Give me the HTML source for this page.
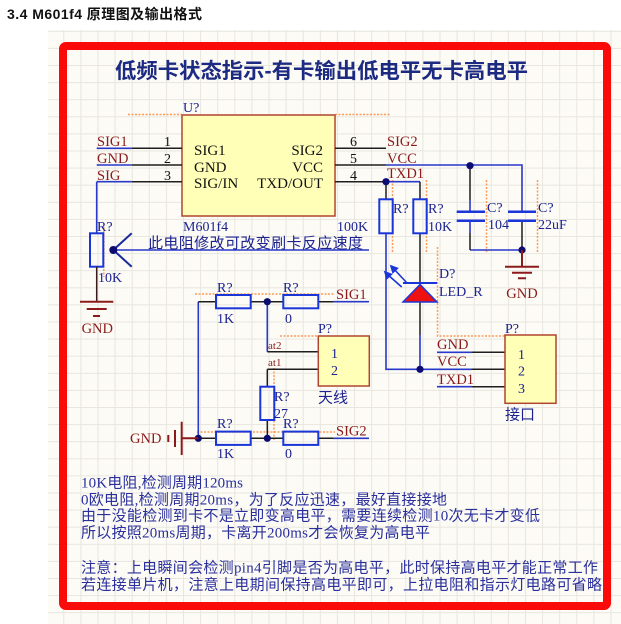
<!DOCTYPE html>
<html><head><meta charset="utf-8"><style>
html,body{margin:0;padding:0;background:#fff;}
svg{display:block;}
.s{font-family:"Liberation Serif","Noto Serif CJK SC",serif;}
.c{font-family:"Liberation Serif","Noto Sans CJK SC",sans-serif;}
.net{fill:#8b1a1a;font-size:14.5px;}
.des{fill:#1c2390;font-size:14px;}
.ic{fill:#111;font-size:15px;}
</style></head><body>
<svg width="621" height="624" viewBox="0 0 621 624" xmlns="http://www.w3.org/2000/svg">
<defs>
<pattern id="g" x="46.2" y="30.8" width="17.1" height="17.1" patternUnits="userSpaceOnUse">
<path d="M0 0.5H17.1M0.5 0V17.1" stroke="#e8e6de" stroke-width="1" fill="none"/>
</pattern>
</defs>
<rect width="621" height="624" fill="#fff"/>
<rect x="48" y="30" width="573" height="594" fill="#fcfbf6"/>
<rect x="48" y="30" width="573" height="594" fill="url(#g)"/>

<!-- header -->
<text x="7" y="19" font-family="'Liberation Sans','Noto Sans CJK SC',sans-serif" font-weight="bold" font-size="14" fill="#111" textLength="195">3.4 M601f4 原理图及输出格式</text>

<!-- red border -->
<rect x="63" y="46" width="544" height="560" rx="3" fill="none" stroke="#fb0a0a" stroke-width="8"/>

<!-- title -->
<text x="115" y="78" font-family="'Liberation Sans','Noto Sans CJK SC',sans-serif" font-weight="bold" font-size="21" fill="#1c2a82" textLength="413" lengthAdjust="spacingAndGlyphs">低频卡状态指示-有卡输出低电平无卡高电平</text>

<!-- orange selection marks -->
<g stroke="#ff9a55" stroke-width="1.5" stroke-dasharray="2 1.5" fill="none">
<path d="M128 114.5H182M335 114.5H390"/>
<path d="M103.8 227V277"/>
<path d="M392.5 180V253M426.5 180V253M486.5 180V253M537.5 180V253"/>
<path d="M437.5 247V336H505"/>
<path d="M195 294H335M280 336H318M274 368V440M197 432H335"/>
<path d="M330 301.7H337M330 438.3H337"/>
</g>

<!-- IC U? -->
<text class="s des" x="183" y="112">U?</text>
<rect x="182" y="115" width="153" height="101" fill="#ffffb8" stroke="#b0452e" stroke-width="1.5"/>
<text class="s ic" x="194" y="155">SIG1</text>
<text class="s ic" x="194" y="172">GND</text>
<text class="s ic" x="194" y="188">SIG/IN</text>
<text class="s ic" x="323" y="155" text-anchor="end">SIG2</text>
<text class="s ic" x="323" y="172" text-anchor="end">VCC</text>
<text class="s ic" x="323" y="188" text-anchor="end">TXD/OUT</text>
<text class="s des" x="183" y="231">M601f4</text>

<!-- pins -->
<g stroke="#1e1e1e" stroke-width="1.5" fill="none">
<path d="M131.7 148.3H182M131.7 165H182M131.7 181.7H182"/>
<path d="M335 148.3H386M335 165H386M335 181.7H386"/>
</g>
<g class="s" fill="#111" font-size="14">
<text x="164" y="146">1</text><text x="164" y="163">2</text><text x="164" y="180">3</text>
<text x="350" y="146">6</text><text x="350" y="163">5</text><text x="350" y="180">4</text>
</g>

<!-- left wires -->
<g stroke="#2838c8" stroke-width="1.6" fill="none">
<path d="M96.7 148.3H131.7M96.7 165H131.7M96.7 181.7H131.7V181.7M96.7 181.7V233.3"/>
<path d="M113.3 250H369"/>
</g>
<text class="s net" x="97" y="146">SIG1</text>
<text class="s net" x="97" y="163">GND</text>
<text class="s net" x="97" y="180">SIG</text>

<!-- potentiometer -->
<rect x="90" y="233.3" width="13.3" height="33.4" fill="none" stroke="#1a36d8" stroke-width="2"/>
<path d="M131.7 233.3L113.3 250L131.7 266.7" stroke="#1a2a9a" stroke-width="2" fill="none"/>
<circle cx="113.3" cy="250" r="4" fill="#0b0b70"/>
<text class="s des" x="97" y="231">R?</text>
<text class="s des" x="98" y="282">10K</text>
<text class="c" x="148" y="248" font-size="15" fill="#1c2390" textLength="215">此电阻修改可改变刷卡反应速度</text>
<path d="M96.7 266.7V301.7" stroke="#3a1a1a" stroke-width="1.5"/>
<g stroke="#8b1a1a" stroke-width="2">
<path d="M80 301.7H113.3M86.7 309H106.7M93 316H100"/>
</g>
<text class="s net" x="97.3" y="333" text-anchor="middle">GND</text>

<!-- right side wires -->
<g stroke="#2838c8" stroke-width="1.6" fill="none">
<path d="M386 165H522V211.7"/>
<path d="M470 200V211.7M470 220.7V233M470 250H522"/>
<path d="M386 181.7H420"/>
<path d="M386 233.3V369.3H472"/>
<path d="M420 335V369.3"/>
<path d="M437 352.3H472M437 386.7H472"/>
</g>
<g stroke="#1e1e1e" stroke-width="1.5" fill="none">
<path d="M470 165V200M470 233V250M522 220.7V250"/>
<path d="M386 181.7V199.3M420 181.7V199.3M420 233.3V283"/>
<path d="M420 302V335"/>
<path d="M472 352.3H505M472 369.3H505M472 386.7H505"/>
</g>
<text class="s net" x="387" y="146">SIG2</text>
<text class="s net" x="387" y="163">VCC</text>
<text class="s net" x="387" y="178">TXD1</text>

<!-- caps -->
<g stroke="#1a36d8" stroke-width="2.5">
<path d="M456.7 211.7H485M456.7 220.7H485M508 211.7H536M508 220.7H536"/>
</g>
<circle cx="470" cy="165.7" r="3.6" fill="#0b0b70"/>
<circle cx="522" cy="250" r="3.6" fill="#0b0b70"/>
<circle cx="386" cy="181.7" r="3.6" fill="#0b0b70"/>
<text class="s des" x="487" y="212">C?</text>
<text class="s des" x="488" y="229">104</text>
<text class="s des" x="538" y="212">C?</text>
<text class="s des" x="538" y="229">22uF</text>
<g stroke="#8b1a1a" stroke-width="2">
<path d="M522 250V266.7M505 266.7H539M512 272.7H532M518 278.3H526"/>
</g>
<text class="s net" x="522" y="298" text-anchor="middle">GND</text>

<!-- resistors 100K / 10K -->
<rect x="379.3" y="199.3" width="13.4" height="34" fill="none" stroke="#1a36d8" stroke-width="2"/>
<rect x="413.3" y="199.3" width="13.4" height="34" fill="none" stroke="#1a36d8" stroke-width="2"/>
<text class="s des" x="393" y="213">R?</text>
<text class="s des" x="337" y="231">100K</text>
<text class="s des" x="428" y="213">R?</text>
<text class="s des" x="428" y="231">10K</text>

<!-- LED -->
<path d="M403 283H437" stroke="#1a36d8" stroke-width="2"/>
<polygon points="420,284.5 403,302 437,302" fill="#ee1111" stroke="#1a36d8" stroke-width="1.5"/>
<g stroke="#1a36d8" stroke-width="1.6" fill="#1a36d8">
<path d="M407 283L393 268"/>
<polygon points="391,266 397.3,268.3 392.9,272.4"/>
<path d="M401.7 287L387 274"/>
<polygon points="385,272 391.3,274.3 386.9,278.4"/>
</g>
<text class="s des" x="439" y="278">D?</text>
<text class="s des" x="439" y="296">LED_R</text>
<circle cx="420" cy="369.3" r="3.6" fill="#0b0b70"/>

<!-- connector 接口 -->
<text class="s des" x="505" y="333">P?</text>
<rect x="505" y="335" width="51" height="68.3" fill="#ffffb8" stroke="#b0452e" stroke-width="1.5"/>
<text class="s des" x="518" y="359">1</text>
<text class="s des" x="518" y="375.5">2</text>
<text class="s des" x="518" y="393">3</text>
<text class="c" x="505" y="419.5" font-size="15" fill="#1c2390">接口</text>
<text class="s net" x="437" y="349">GND</text>
<text class="s net" x="437" y="366">VCC</text>
<text class="s net" x="437" y="384">TXD1</text>

<!-- middle section -->
<g stroke="#2838c8" stroke-width="1.6" fill="none">
<path d="M198.3 301.7V438.3"/>
<path d="M267.3 301.7V351.7"/>
<path d="M333 301.7H369M333 438.3H369"/>
</g>
<g stroke="#1e1e1e" stroke-width="1.5" fill="none">
<path d="M198.3 301.7H216M250.7 301.7H283.3M318.3 301.7H333"/>
<path d="M267.3 351.7H318.3M267.3 369.3H318.3M267.3 369.3V386.7M267.3 420V438.3"/>
<path d="M198.3 438.3H216M250.7 438.3H283.3M318.3 438.3H333"/>
</g>
<g fill="none" stroke="#1a36d8" stroke-width="2">
<rect x="216" y="295" width="34.7" height="13.3"/>
<rect x="283.3" y="295" width="35" height="13.3"/>
<rect x="260.3" y="386.7" width="14" height="33.3"/>
<rect x="216" y="431.6" width="34.7" height="13.3"/>
<rect x="283.3" y="431.6" width="35" height="13.3"/>
</g>
<circle cx="267.3" cy="301.7" r="3.6" fill="#0b0b70"/>
<circle cx="267.3" cy="438.3" r="3.6" fill="#0b0b70"/>
<circle cx="198.3" cy="438.3" r="3.6" fill="#0b0b70"/>
<text class="s des" x="217" y="292">R?</text>
<text class="s des" x="217" y="323">1K</text>
<text class="s des" x="283" y="292">R?</text>
<text class="s des" x="285" y="323">0</text>
<text class="s net" x="336" y="299">SIG1</text>
<text class="s" x="268" y="349" font-size="11" fill="#8b1a1a">at2</text>
<text class="s" x="268" y="366" font-size="11" fill="#8b1a1a">at1</text>
<text class="s des" x="318" y="333">P?</text>
<rect x="318.3" y="336" width="51" height="50" fill="#ffffb8" stroke="#b0452e" stroke-width="1.5"/>
<text class="s des" x="331" y="358">1</text>
<text class="s des" x="331" y="375">2</text>
<text class="c" x="318" y="402.5" font-size="15" fill="#1c2390">天线</text>
<text class="s des" x="274" y="401">R?</text>
<text class="s des" x="274" y="418">27</text>
<text class="s des" x="217" y="428">R?</text>
<text class="s des" x="217" y="458">1K</text>
<text class="s des" x="283" y="428">R?</text>
<text class="s des" x="285" y="458">0</text>
<text class="s net" x="336" y="435.5">SIG2</text>
<g stroke="#8b1a1a" stroke-width="2">
<path d="M168.3 435V442M175 430V447M181.7 421.7V455M181.7 438.3H198.3"/>
</g>
<text class="s net" x="130" y="443">GND</text>

<!-- notes -->
<g class="c" font-size="15" fill="#2a2f9c">
<text x="81" y="487.5" textLength="162">10K电阻,检测周期120ms</text>
<text x="81" y="504.5" textLength="366">0欧电阻,检测周期20ms，为了反应迅速，最好直接接地</text>
<text x="81" y="520.5" textLength="459">由于没能检测到卡不是立即变高电平，需要连续检测10次无卡才变低</text>
<text x="81" y="537.5" textLength="349">所以按照20ms周期，卡离开200ms才会恢复为高电平</text>
<text x="81" y="572.5" textLength="517">注意：上电瞬间会检测pin4引脚是否为高电平，此时保持高电平才能正常工作</text>
<text x="81" y="589.5" textLength="521">若连接单片机，注意上电期间保持高电平即可，上拉电阻和指示灯电路可省略</text>
</g>
</svg>
</body></html>
